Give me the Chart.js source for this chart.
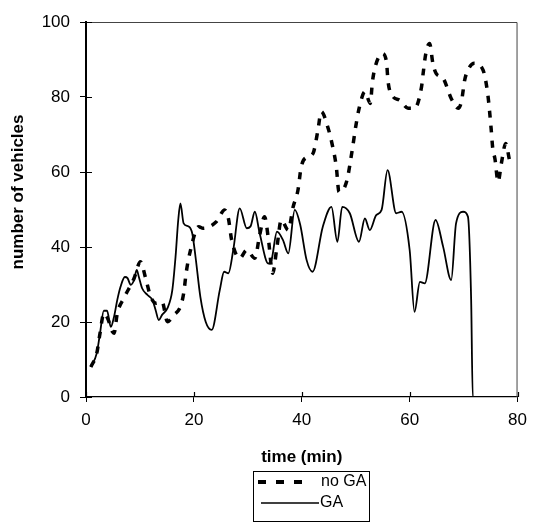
<!DOCTYPE html>
<html>
<head>
<meta charset="utf-8">
<script src="https://cdn.jsdelivr.net/npm/chart.js@4"></script>
<style>
  html, body { margin: 0; padding: 0; background: #fff; }
  #wrap { width: 535px; height: 525px; position: relative; }
</style>
</head>
<body>
<div id="wrap"><canvas id="c" width="535" height="525"></canvas></div>
<script>
// Time (min) and vehicle counts, run without the genetic algorithm
const timeNoGA = [0.9, 2.0, 2.6, 3.3, 4.0, 4.9, 5.2, 5.8, 7.0, 8.9, 10.1, 11.0, 12.0, 13.0, 14.1, 15.1, 16.3, 17.5, 18.1, 18.6, 19.3, 20.9, 21.7, 24.2, 25.7, 26.4, 27.0, 28.5, 29.8, 31.3, 32.2, 33.1, 33.8, 34.6, 35.4, 36.2, 37.5, 38.4, 39.3, 39.9, 41.2, 42.1, 43.0, 43.6, 44.9, 45.6, 46.4, 46.9, 48.3, 49.4, 50.0, 50.7, 51.7, 52.7, 53.1, 53.7, 54.9, 55.7, 56.0, 56.9, 58.1, 59.7, 60.9, 62.2, 62.5, 63.0, 63.7, 64.3, 64.9, 66.2, 67.7, 69.0, 69.6, 70.2, 70.8, 72.0, 73.6, 74.5, 75.1, 75.4, 75.8, 76.4, 77.0, 77.8, 78.5];
const vehiclesNoGA = [8, 11.7, 17, 22.3, 21, 17.4, 17, 22.3, 26.3, 31.6, 36.1, 32, 26.7, 25, 25.4, 20.1, 21.9, 24.1, 27.6, 33.4, 38.7, 45.4, 45, 46.8, 49.9, 47.6, 41.9, 37, 39.2, 37, 43.2, 48.1, 42.3, 33, 40, 47.2, 44.5, 50.7, 55.2, 61.4, 64.1, 65, 71.2, 76.1, 71.6, 67.6, 61.4, 54.7, 57.4, 66.3, 72.1, 77.4, 81.4, 78.3, 84.1, 88.5, 91.6, 89.4, 84.1, 80.1, 79.2, 77, 77, 82.7, 86.3, 91.6, 94.3, 89, 86.3, 85, 79.6, 77, 78.8, 84.5, 87.2, 89, 87.2, 80.5, 71.6, 66.3, 63.6, 57.4, 62.3, 67.6, 63.2];

// Time (min) and vehicle counts, run with the genetic algorithm
const timeGA = [0.9, 2.0, 2.6, 3.3, 3.9, 4.6, 5.2, 5.8, 6.4, 7.2, 7.7, 8.3, 8.9, 9.4, 9.8, 10.4, 11.4, 12.3, 12.9, 13.5, 14.1, 15.1, 16.0, 16.6, 17.1, 17.5, 18.1, 19.1, 19.7, 20.3, 21.2, 22.2, 23.3, 24.8, 25.6, 26.4, 27.3, 28.5, 29.8, 30.5, 31.3, 32.2, 33.8, 34.4, 35.4, 36.5, 37.5, 38.7, 39.7, 40.9, 42.0, 43.9, 45.5, 46.6, 47.5, 48.9, 50.6, 51.7, 52.6, 53.8, 54.8, 55.9, 57.5, 58.5, 60.0, 60.9, 61.9, 62.8, 64.8, 66.2, 67.7, 68.6, 69.9, 70.8, 71.4, 71.7, 78.0];
const vehiclesGA = [8, 11.7, 17, 23, 23, 18.7, 21.4, 25.9, 29.4, 32, 31.7, 29.9, 31.2, 33.9, 32, 29, 27.2, 25.9, 23.2, 20.5, 21.9, 23.7, 28.5, 37.4, 47.2, 51.6, 46.3, 45.4, 43.6, 37.4, 26.7, 20, 17.9, 28.5, 33.4, 33, 39.2, 50.3, 45, 45.5, 49.4, 43.6, 35.6, 36.5, 44.1, 41.9, 38.3, 49.9, 46, 36.5, 33.4, 45.4, 50.7, 41.4, 50.7, 49, 41.4, 47.6, 44.5, 48.5, 49.9, 60.5, 49, 49.4, 39.2, 22.7, 30.7, 30.3, 47.2, 40.1, 31.2, 46.3, 49.4, 48.1, 25.9, 0, 0];

const xTicks = [0, 20, 40, 60, 80];
const yTicks = [0, 20, 40, 60, 80, 100];
const seriesNames = ['no GA', 'GA'];
const xTitle = 'time (min)';
const yTitle = 'number of vehicles';

const toPoints = (xs, ys) => xs.map((x, i) => ({ x: x, y: ys[i] }));

const FONT = "'Liberation Sans', Arial, sans-serif";

// Frame, inner tick halves, axis titles and boxed legend
const decorations = {
  id: 'decorations',
  afterDraw(chart) {
    const ctx = chart.ctx;
    const a = chart.chartArea;
    const xs = chart.scales.x, ys = chart.scales.y;
    ctx.save();
    // top and right frame
    ctx.strokeStyle = '#444';
    ctx.lineWidth = 1;
    ctx.beginPath();
    ctx.moveTo(a.left, a.top + 0.5);
    ctx.lineTo(a.right - 0.5, a.top + 0.5);
    ctx.lineTo(a.right - 0.5, a.bottom);
    ctx.stroke();
    // tick marks reaching into the plot
    ctx.strokeStyle = '#000';
    ctx.lineWidth = 1.2;
    ctx.beginPath();
    yTicks.forEach(v => {
      const p = Math.round(ys.getPixelForValue(v)) + 0.5;
      ctx.moveTo(a.left, p); ctx.lineTo(a.left + 6, p);
    });
    xTicks.forEach(v => {
      const p = Math.round(xs.getPixelForValue(v)) + 0.5;
      ctx.moveTo(p, a.bottom); ctx.lineTo(p, a.bottom - 5);
    });
    ctx.stroke();

    // axis titles
    ctx.fillStyle = '#000';
    ctx.font = 'bold 17px ' + FONT;
    ctx.textAlign = 'center';
    ctx.textBaseline = 'middle';
    ctx.fillText(xTitle, (a.left + a.right) / 2, 457);
    ctx.save();
    ctx.translate(18, 192);
    ctx.rotate(-Math.PI / 2);
    ctx.fillText(yTitle, 0, 0);
    ctx.restore();

    // legend box
    const bx = 253, by = 471, bw = 116, bh = 50;
    ctx.strokeStyle = '#000';
    ctx.lineWidth = 1;
    ctx.strokeRect(bx + 0.5, by + 0.5, bw, bh);
    const dsNo = chart.data.datasets[0], dsGA = chart.data.datasets[1];
    ctx.strokeStyle = dsNo.borderColor;
    ctx.lineWidth = 4;
    ctx.setLineDash([8, 10]);
    ctx.beginPath();
    ctx.moveTo(258, 482); ctx.lineTo(304, 482);
    ctx.stroke();
    ctx.setLineDash([]);
    ctx.lineWidth = 1.3;
    ctx.beginPath();
    ctx.moveTo(261, 503); ctx.lineTo(319, 503);
    ctx.stroke();
    ctx.font = '16px ' + FONT;
    ctx.textAlign = 'left';
    ctx.fillText(dsNo.label, 321, 482);
    ctx.fillText(dsGA.label, 320, 503);
    ctx.restore();
  }
};

new Chart(document.getElementById('c'), {
  type: 'line',
  data: {
    datasets: [
      {
        label: seriesNames[0],
        data: toPoints(timeNoGA, vehiclesNoGA),
        borderColor: '#000',
        borderWidth: 3.5,
        borderDash: [7, 8],
        pointRadius: 0,
        cubicInterpolationMode: 'monotone',
        fill: false
      },
      {
        label: seriesNames[1],
        data: toPoints(timeGA, vehiclesGA),
        borderColor: '#000',
        borderWidth: 1.8,
        pointRadius: 0,
        cubicInterpolationMode: 'monotone',
        fill: false
      }
    ]
  },
  options: {
    responsive: false,
    animation: false,
    devicePixelRatio: 1,
    layout: { padding: { left: 0, top: 22, right: 17, bottom: 0 } },
    plugins: { legend: { display: false }, tooltip: { enabled: false } },
    scales: {
      x: {
        type: 'linear',
        min: 0, max: 80,
        afterBuildTicks: s => { s.ticks = xTicks.map(v => ({ value: v })); },
        afterFit: s => { s.height = 128; },
        grid: { drawOnChartArea: false, tickLength: 5, color: '#000' },
        border: { color: '#000', width: 1.2 },
        ticks: { color: '#000', font: { family: FONT, size: 17 }, padding: 8, maxRotation: 0 }
      },
      y: {
        type: 'linear',
        min: 0, max: 100,
        afterBuildTicks: s => { s.ticks = yTicks.map(v => ({ value: v })); },
        afterFit: s => { s.width = 86; },
        grid: { drawOnChartArea: false, tickLength: 6, color: '#000' },
        border: { color: '#000', width: 2 },
        ticks: { color: '#000', font: { family: FONT, size: 17 }, padding: 10 }
      }
    }
  },
  plugins: [decorations]
});
</script>
</body>
</html>
